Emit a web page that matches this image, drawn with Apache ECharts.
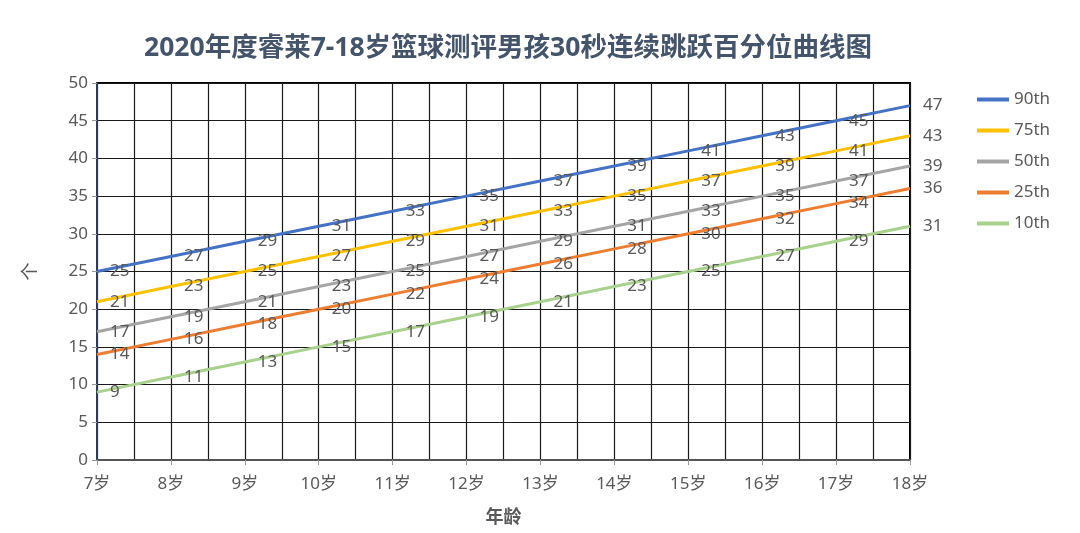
<!DOCTYPE html>
<html><head><meta charset="utf-8">
<script src="https://cdn.jsdelivr.net/npm/echarts@6/dist/echarts.min.js"></script>
<style>html,body{margin:0;padding:0;background:#fff}#c{width:1080px;height:533px}</style>
</head><body><div id="c"></div>
<script>
const categories = ['7岁','8岁','9岁','10岁','11岁','12岁','13岁','14岁','15岁','16岁','17岁','18岁'];
const p90 = [25,27,29,31,33,35,37,39,41,43,45,47];
const p75 = [21,23,25,27,29,31,33,35,37,39,41,43];
const p50 = [17,19,21,23,25,27,29,31,33,35,37,39];
const p25 = [14,16,18,20,22,24,26,28,30,32,34,36];
const p10 = [9,11,13,15,17,19,21,23,25,27,29,31];
const seriesNames = ['90th','75th','50th','25th','10th'];
const colors = ['#4472C4','#FFC000','#A5A5A5','#ED7D31','#A9D18E'];
const yTicks = {min:0, max:50, interval:5};

const FONT = "'Noto Sans', 'Noto Sans CJK SC', sans-serif";
const chart = echarts.init(document.getElementById('c'));
const dataSets = [p90,p75,p50,p25,p10];
chart.setOption({
  animation:false,
  title:{text:'2020年度睿莱7-18岁篮球测评男孩30秒连续跳跃百分位曲线图', left:139, top:30,
    textStyle:{fontSize:26.5, fontWeight:'bold', color:'#44546A', fontFamily:FONT}},
  legend:{orient:'vertical', left:972, top:86, itemWidth:32, itemHeight:14, itemGap:14,
    data: seriesNames.map((n,i)=>({name:n, icon:'path://M0,0 L32,0 L32,4 L0,4 Z', itemStyle:{color:colors[i], borderWidth:0}})),
    textStyle:{fontSize:17, color:'#595959', fontFamily:FONT}},
  grid:{left:97, right:170, top:83, bottom:73, show:true, borderColor:'#000', borderWidth:2, backgroundColor:'transparent'},
  xAxis:[{type:'category', data:categories, boundaryGap:false,
      name:'年龄', nameLocation:'middle', nameGap:49,
      nameTextStyle:{fontSize:18, fontWeight:'bold', color:'#595959', fontFamily:FONT},
      axisLine:{lineStyle:{color:'#555', width:2}},
      axisTick:{show:true, length:5, lineStyle:{color:'#999'}},
      axisLabel:{fontSize:17, color:'#595959', margin:16, fontFamily:FONT},
      splitLine:{show:false}},
    {type:'value', min:0, max:22, interval:1, show:true, position:'bottom',
      axisLine:{show:false}, axisTick:{show:false}, axisLabel:{show:false},
      splitLine:{show:true, lineStyle:{color:'#1a1a1a', width:1.2}}}],
  yAxis:{type:'value', min:yTicks.min, max:yTicks.max, interval:yTicks.interval,
    name:'个', nameLocation:'middle', nameGap:57, nameRotate:90,
    nameTextStyle:{fontSize:18, color:'#595959', fontFamily:FONT},
    axisLine:{show:true, lineStyle:{color:'#2F3B52', width:2}},
    axisTick:{show:true, length:5, lineStyle:{color:'#999'}},
    axisLabel:{fontSize:17, color:'#595959', margin:9, fontFamily:FONT},
    splitLine:{show:true, lineStyle:{color:'#1a1a1a', width:1.2}}},
  series: seriesNames.map((n,i)=>({
    name:n, type:'line', data:dataSets[i], xAxisIndex:0, symbol:'circle', symbolSize:0, showSymbol:true, z:3,
    lineStyle:{width:3, color:colors[i]}, itemStyle:{color:colors[i]},
    label:{show:true, position:'right', distance:13, fontSize:17, color:'#595959', fontFamily:FONT}
  }))
});
</script></body></html>
